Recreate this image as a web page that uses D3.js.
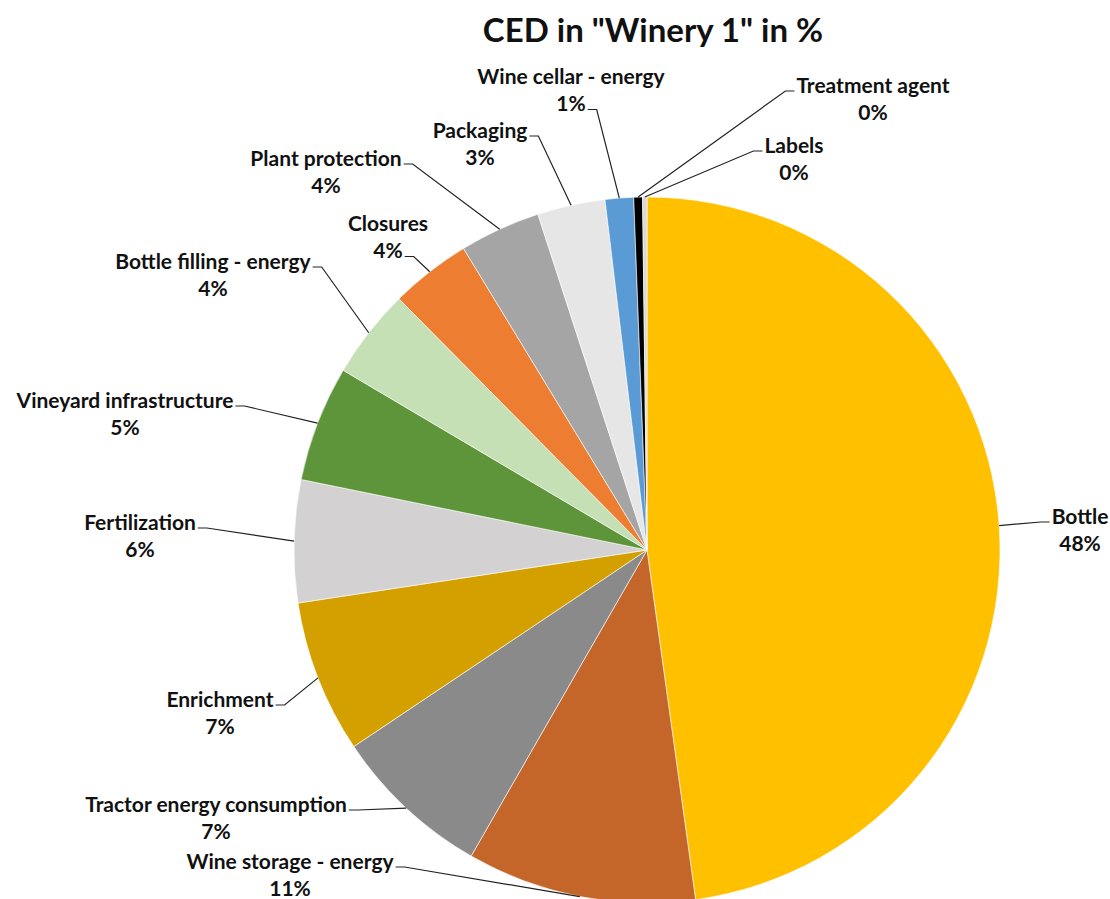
<!DOCTYPE html>
<html>
<head>
<meta charset="utf-8">
<script src="https://cdn.jsdelivr.net/npm/d3@7"></script>
<style>
  body { margin: 0; background: #fff; }
  text { font-family: Lato, "Open Sans", sans-serif; font-weight: bold; fill: #111; }
</style>
</head>
<body>
<div id="chart"></div>
<script>
// CED share per process step (clockwise from 12 o'clock)
const categories = ["Bottle", "Wine storage - energy", "Tractor energy consumption", "Enrichment",
    "Fertilization", "Vineyard infrastructure", "Bottle filling - energy", "Closures",
    "Plant protection", "Packaging", "Wine cellar - energy", "Treatment agent", "Labels"];
const shares = [47.8, 10.5, 7.3, 7.0, 5.6, 5.3, 4.1, 3.7, 3.7, 3.1, 1.3, 0.4, 0.2];

const sliceColors = ["#FFC000", "#C4652A", "#8A8A8A", "#D4A000", "#D3D1D2", "#5E953A",
    "#C5E0B4", "#ED7D31", "#A5A5A5", "#E7E6E6", "#5B9BD5", "#000000", "#D9D9D9"];

// where each data label sits (centre of first line) and which edge the leader leaves from
const labelLayout = [
    { x: 1080, y: 516, from: "l1" },
    { x: 290, y: 861, from: "r1" },
    { x: 216, y: 804, from: "r1" },
    { x: 220, y: 699, from: "r1" },
    { x: 140, y: 522, from: "r1" },
    { x: 125, y: 400, from: "r1" },
    { x: 213, y: 261, from: "r1" },
    { x: 388, y: 223, from: "r2" },
    { x: 326, y: 158, from: "r1" },
    { x: 480, y: 130, from: "r1" },
    { x: 571, y: 76, from: "r2" },
    { x: 873, y: 85, from: "l1" },
    { x: 794, y: 145, from: "l1" }
];

const width = 1110;
const height = 899;
const cx = 647, cy = 550, radius = 353;
const fontSize = 21;
const lineGap = 27.5;

const data = categories.map((name, i) => ({ name, value: shares[i] }));

const svg = d3.select("#chart")
    .append("svg")
    .attr("width", width)
    .attr("height", height);

svg.append("text")
    .attr("x", 653)
    .attr("y", 42)
    .attr("text-anchor", "middle")
    .style("font-size", "33px")
    .text('CED in "Winery 1" in %');

const color = d3.scaleOrdinal().domain(categories).range(sliceColors);

const pie = d3.pie()
    .sort(null)
    .value(d => d.value);

const arc = d3.arc()
    .innerRadius(0)
    .outerRadius(radius);

// zero-width arc on the rim, used to find where leaders touch the pie
const rimArc = d3.arc()
    .innerRadius(radius)
    .outerRadius(radius);

const g = svg.append("g")
    .attr("transform", `translate(${cx}, ${cy})`);

const arcs = pie(data);

g.selectAll(".slice")
    .data(arcs)
    .enter()
    .append("path")
    .attr("class", "slice")
    .attr("d", arc)
    .attr("fill", d => color(d.data.name))
    .attr("stroke", "#fff")
    .attr("stroke-width", 0.6);

// data labels with leader lines
const labels = svg.append("g");

arcs.forEach((d, i) => {
    const pos = labelLayout[i];
    const t1 = labels.append("text")
        .attr("x", pos.x)
        .attr("y", pos.y + 7.5)
        .attr("text-anchor", "middle")
        .style("font-size", fontSize + "px")
        .text(d.data.name);
    const t2 = labels.append("text")
        .attr("x", pos.x)
        .attr("y", pos.y + lineGap + 7.5)
        .attr("text-anchor", "middle")
        .style("font-size", fontSize + "px")
        .text(Math.round(d.data.value) + "%");

    const w1 = t1.node().getComputedTextLength();
    const w2 = t2.node().getComputedTextLength();

    let sx, sy, dir;
    if (pos.from === "r1") { sx = pos.x + w1 / 2 + 2; sy = pos.y + 6; dir = 1; }
    else if (pos.from === "r2") { sx = pos.x + w2 / 2 + 2; sy = pos.y + lineGap + 6; dir = 1; }
    else { sx = pos.x - w1 / 2 - 2; sy = pos.y + 6; dir = -1; }

    const [ex, ey] = rimArc.centroid(d);
    labels.append("path")
        .attr("d", d3.line()([[sx, sy], [sx + dir * 9, sy], [cx + ex, cy + ey]]))
        .attr("fill", "none")
        .attr("stroke", "#222")
        .attr("stroke-width", 1.2);
});
</script>
</body>
</html>
